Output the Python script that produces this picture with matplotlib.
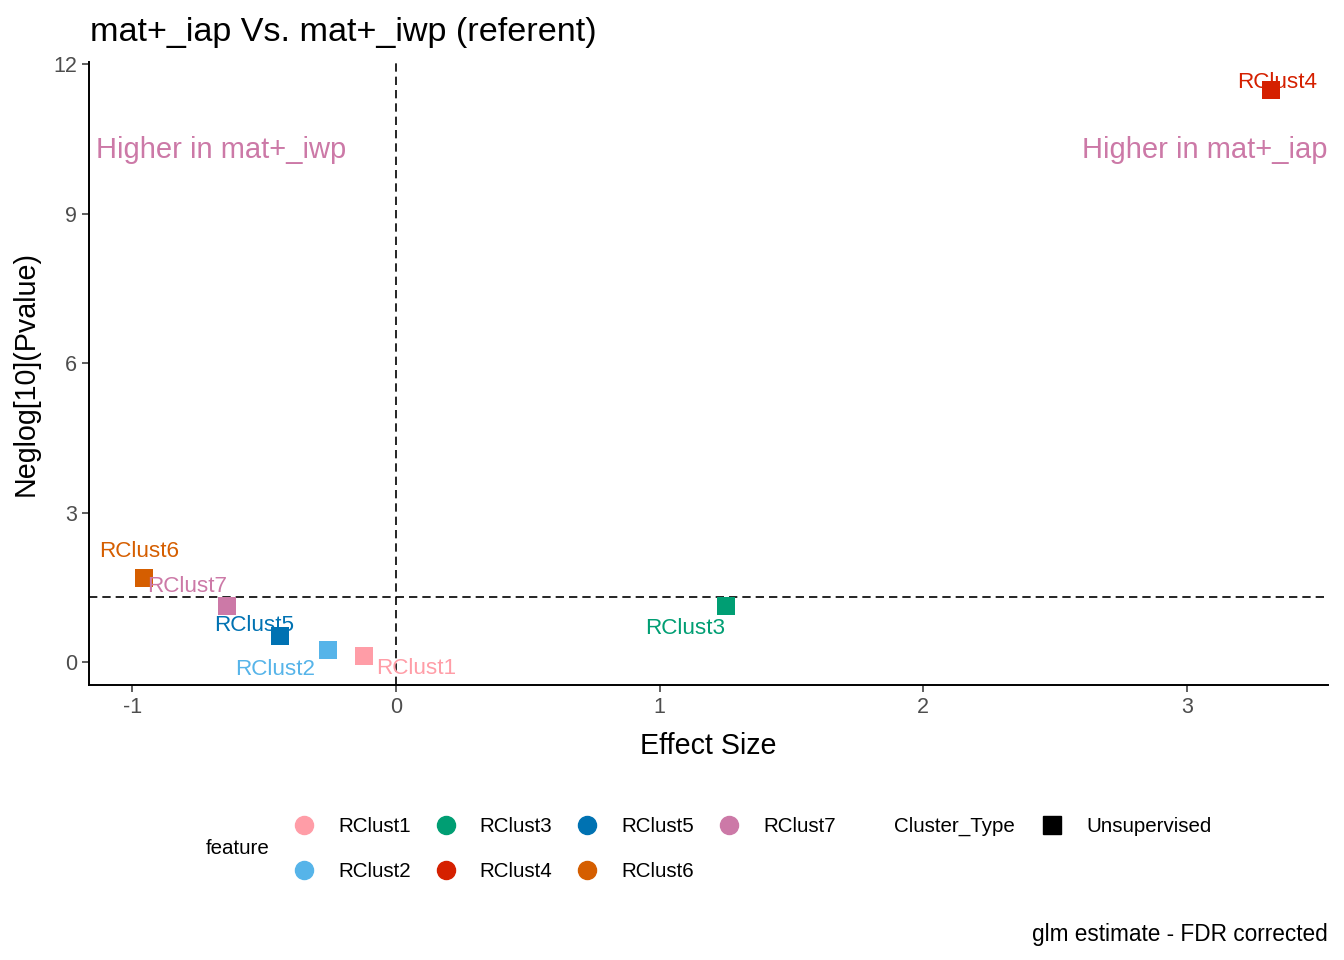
import numpy as np
import matplotlib
matplotlib.use("Agg")
import matplotlib.pyplot as plt
from matplotlib.lines import Line2D
import matplotlib.transforms as mtransforms

plt.rcParams['font.family'] = ['Liberation Sans', 'DejaVu Sans']
plt.rcParams['axes.unicode_minus'] = False

# data
features = ['RClust1', 'RClust2', 'RClust3', 'RClust4', 'RClust5', 'RClust6', 'RClust7']
effect_size = [-0.12, -0.26, 1.25, 3.32, -0.44, -0.955, -0.64]
neglog_p = [0.12, 0.24, 1.12, 11.47, 0.52, 1.69, 1.12]
colors = ['#FF9DA7', '#56B4E9', '#009E73', '#D52000', '#0072B2', '#D55E00', '#CC79A7']
# label offsets (points) roughly like the repelled labels
label_dx = [37, -38, -29, 4, -19, -4, -29]
label_dy = [-9, -14, -16, 6, 8, 19, 14]

sig_line = -np.log10(0.05)

fig = plt.figure(figsize=(13.44, 9.6), dpi=100)
ax = fig.add_axes([0.0662, 0.2865, 0.9218, 0.6489])

ax.axhline(sig_line, color='black', lw=1.2, ls=(0, (5, 3)), zorder=1)
ax.axvline(0, color='black', lw=1.2, ls=(0, (5, 3)), zorder=1)

for f, x, y, c, dx, dy in zip(features, effect_size, neglog_p, colors, label_dx, label_dy):
    ax.scatter(x, y, marker='s', s=175, color=c, zorder=3, linewidths=0)
    ax.annotate(f, (x, y), xytext=(dx, dy), textcoords='offset points',
                ha='center', va='center', color=c, fontsize=16.2, zorder=4)

ax.set_xlim(-1.165, 3.535)
ax.set_ylim(-0.46, 12.04)
ax.set_xticks([-1, 0, 1, 2, 3])
ax.set_yticks([0, 3, 6, 9, 12])
ax.tick_params(labelsize=15.5, labelcolor='#4D4D4D', color='#333333', length=5, width=1.1)

for s in ['top', 'right']:
    ax.spines[s].set_visible(False)
for s in ['left', 'bottom']:
    ax.spines[s].set_linewidth(1.4)

ax.set_xlabel('Effect Size', fontsize=20.6, labelpad=10)
ax.set_ylabel('Neglog[10](Pvalue)', fontsize=20.6, labelpad=10)

trans = mtransforms.blended_transform_factory(ax.transAxes, ax.transData)
ax.text(0.006, 10.28, 'Higher in mat+_iwp', transform=trans, color='#CC79A7',
        fontsize=21, ha='left', va='center')
ax.text(1.0, 10.28, 'Higher in mat+_iap', transform=trans, color='#CC79A7',
        fontsize=21, ha='right', va='center')

fig.text(90 / 1344, 1 - 32 / 960, 'mat+_iap Vs. mat+_iwp (referent)', fontsize=24.6,
         ha='left', va='center')

# legends
handles = [Line2D([], [], marker='o', ls='none', markersize=13, color=c) for c in colors]
leg1 = fig.legend(handles, features, loc='center left', bbox_to_anchor=((305 - 11) / 1344, (960 - 849) / 960),
                  ncol=4, frameon=False, fontsize=14.8, handlelength=1.0, handletextpad=1.15,
                  columnspacing=1.2, labelspacing=1.27, borderpad=0, borderaxespad=0)
fig.text(238 / 1344, 1 - 849 / 960, 'feature', fontsize=14.8, ha='center', va='center')

sq = [Line2D([], [], marker='s', ls='none', markersize=13, color='black')]
fig.legend(sq, ['Unsupervised'], loc='center left', bbox_to_anchor=((1052 - 10) / 1344, (960 - 827) / 960),
           frameon=False, fontsize=14.8, handlelength=1.0, handletextpad=1.15,
           borderpad=0, borderaxespad=0)
fig.text(894 / 1344, 1 - 826 / 960, 'Cluster_Type', fontsize=14.8, ha='left', va='center')

fig.text(1328 / 1344, 1 - 934 / 960, 'glm estimate - FDR corrected', fontsize=16.3,
         ha='right', va='center')

fig.savefig('out.png', dpi=100)
